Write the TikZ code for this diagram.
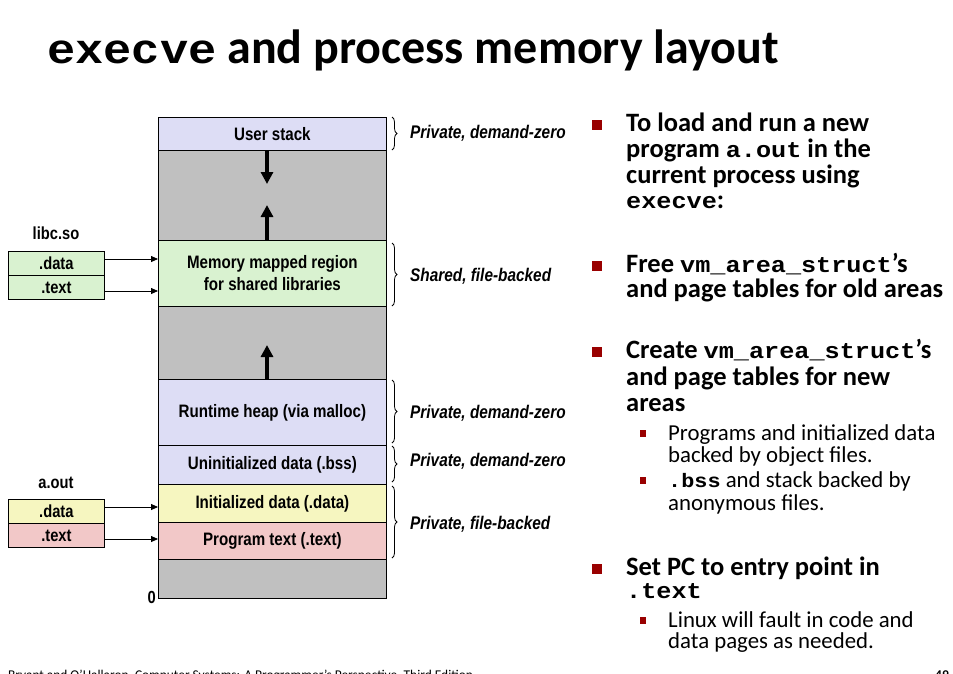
\documentclass[tikz,border=0pt]{standalone}
\usepackage{fontspec}
\usetikzlibrary{arrows.meta,decorations.pathreplacing}
\setmainfont{Carlito}
\newfontfamily\narrowsans[FakeStretch=0.84]{Liberation Sans}
\newfontfamily\codefont[FakeStretch=1.12]{Liberation Mono}
\newcommand{\bigcode}[1]{{\codefont\bfseries\fontsize{22.5}{24}\selectfont #1}}
\newcommand{\smallcode}[1]{{\codefont\bfseries\fontsize{19.5}{21}\selectfont #1}}

\definecolor{lavender}{RGB}{221,221,245}
\definecolor{libgreen}{RGB}{217,242,208}
\definecolor{datayellow}{RGB}{246,246,192}
\definecolor{textpink}{RGB}{242,200,200}
\definecolor{gapgray}{RGB}{192,192,192}
\definecolor{bulletred}{RGB}{153,0,0}

\tikzset{
  blk/.style={draw, line width=0.8pt, minimum width=228pt, inner sep=0pt,
    anchor=north west, align=center,
    font=\narrowsans\bfseries\fontsize{18}{22}\selectfont},
  sect/.style={draw, line width=0.8pt, minimum width=96pt, minimum height=24pt,
    inner sep=0pt, anchor=north west,
    font=\narrowsans\bfseries\fontsize{17.5}{20}\selectfont},
  filelabel/.style={inner sep=0pt, font=\narrowsans\bfseries\fontsize{17.5}{20}\selectfont},
  kind/.style={inner sep=0pt, anchor=west,
    font=\narrowsans\bfseries\itshape\fontsize{18.3}{20}\selectfont},
  bracket/.style={decorate, decoration={brace, amplitude=5pt}, line width=0.8pt},
  growth/.style={line width=4pt, -{Triangle[length=12pt,width=12pt]}},
  mapto/.style={line width=0.8pt, -{Triangle[length=7pt,width=6pt]}},
  bline/.style={inner sep=0pt, anchor=base west,
    font=\bfseries\fontsize{26.5}{27}\selectfont},
  sline/.style={inner sep=0pt, anchor=base west,
    font=\fontsize{22.8}{23}\selectfont},
  bmark/.style={fill=bulletred, inner sep=0pt, minimum size=10pt},
  smark/.style={fill=bulletred, inner sep=0pt, minimum size=6.5pt},
}

\begin{document}
\begin{tikzpicture}[x=1pt, y=-1pt]
\clip (0,0) rectangle (953,673);
\fill[white] (0,0) rectangle (953,673);

% title
\node[inner sep=0pt, anchor=base west, font=\bfseries\fontsize{48}{50}\selectfont]
  (title) at (47,63) {{\codefont\fontsize{42}{44}\selectfont execve} and process memory layout};

% address space, top to bottom
\node[blk, fill=lavender,   minimum height=33pt] (us) at (158,117) {User stack};
\node[blk, fill=gapgray,    minimum height=90pt] (g1) at (158,150) {};
\node[blk, fill=libgreen,   minimum height=66pt] (mm) at (158,240) {Memory mapped region\\for shared libraries};
\node[blk, fill=gapgray,    minimum height=73pt] (g2) at (158,306) {};
\node[blk, fill=lavender,   minimum height=66pt] (hp) at (158,379) {Runtime heap (via malloc)};
\node[blk, fill=lavender,   minimum height=39pt] (bs) at (158,445) {Uninitialized data (.bss)};
\node[blk, fill=datayellow, minimum height=38pt] (id) at (158,484) {Initialized data (.data)};
\node[blk, fill=textpink,   minimum height=37pt] (pt) at (158,522) {Program text (.text)};
\node[blk, fill=gapgray,    minimum height=39pt] (g3) at (158,559) {};
\node[filelabel, anchor=east] (zero) at (156,597) {0};

% growth of stack and heap / mmap region
\coordinate (stacktip) at (267,184);
\coordinate (mmtip) at (267,205);
\coordinate (heaptip) at (267,345);
\draw[growth] (stacktip |- us.south) -- (stacktip);
\draw[growth] (mmtip |- mm.north) -- (mmtip);
\draw[growth] (heaptip |- hp.north) -- (heaptip);

% shared library
\node[filelabel] (libc) at (56,233) {libc.so};
\node[sect, fill=libgreen] (ld) at (8,251) {.data};
\node[sect, fill=libgreen] (lt) at (8,275) {.text};
\coordinate (ldout) at (104,259);
\coordinate (ltout) at (104,291);
\draw[mapto] (ldout) -- (ldout -| mm.west);
\draw[mapto] (ltout) -- (ltout -| mm.west);

% executable
\node[filelabel] (aout) at (56,483) {a.out};
\node[sect, fill=datayellow] (ad) at (8,499) {.data};
\node[sect, fill=textpink]   (at) at (8,523) {.text};
\coordinate (adout) at (104,507);
\coordinate (atout) at (104,539);
\draw[mapto] (adout) -- (adout -| id.west);
\draw[mapto] (atout) -- (atout -| pt.west);

% area kinds
\draw[bracket] (392,117) -- (392,150);
\draw[bracket] (392,243) -- (392,306);
\draw[bracket] (392,380) -- (392,443);
\draw[bracket] (392,446) -- (392,482);
\draw[bracket] (392,486) -- (392,558);
\node[kind] (k1) at (410,133) {Private, demand-zero};
\node[kind] (k2) at (410,276) {Shared, file-backed};
\node[kind] (k3) at (410,413) {Private, demand-zero};
\node[kind] (k4) at (410,461) {Private, demand-zero};
\node[kind] (k5) at (410,524) {Private, file-backed};

% bullet list
\node[bmark] (m1) at (597,125) {};
\node[bline] (l11) at (626,131) {To load and run a new};
\node[bline] (l12) at (626,157) {program \bigcode{a.out} in the};
\node[bline] (l13) at (626,183) {current process using};
\node[bline] (l14) at (626,208) {\bigcode{execve}:};

\node[bmark] (m2) at (597,266) {};
\node[bline] (l21) at (626,272) {Free \bigcode{vm\_area\_struct}’s};
\node[bline] (l22) at (626,297) {and page tables for old areas};

\node[bmark] (m3) at (597,352) {};
\node[bline] (l31) at (626,358) {Create \bigcode{vm\_area\_struct}’s};
\node[bline] (l32) at (626,385) {and page tables for new};
\node[bline] (l33) at (626,411) {areas};
\node[smark] (s1) at (643,433.5) {};
\node[sline] (l34) at (668,440) {Programs and initialized data};
\node[sline] (l35) at (668,462) {backed by object files.};
\node[smark] (s2) at (643,480.5) {};
\node[sline] (l36) at (668,487) {\smallcode{.bss} and stack backed by};
\node[sline] (l37) at (668,510) {anonymous files.};

\node[bmark] (m4) at (597,569) {};
\node[bline] (l41) at (626,575) {Set PC to entry point in};
\node[bline] (l42) at (626,598) {\bigcode{.text}};
\node[smark] (s3) at (643,620.5) {};
\node[sline] (l43) at (668,627) {Linux will fault in code and};
\node[sline] (l44) at (668,648) {data pages as needed.};

% footer
\node[inner sep=0pt, anchor=base west, font=\fontsize{13.4}{15}\selectfont]
  (foot) at (8,679) {Bryant and O’Hallaron, Computer Systems: A Programmer’s Perspective, Third Edition};
\node[inner sep=0pt, anchor=base west, font=\bfseries\fontsize{13.4}{15}\selectfont]
  (page) at (935,679) {49};
\end{tikzpicture}
\end{document}
